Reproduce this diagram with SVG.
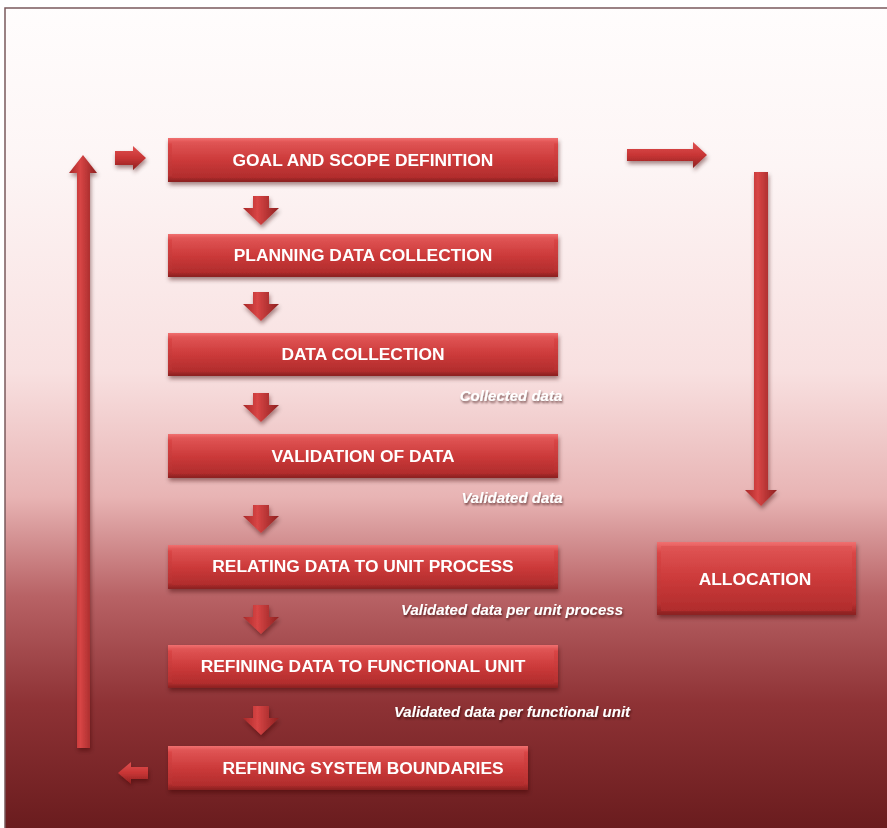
<svg xmlns="http://www.w3.org/2000/svg" width="887" height="828" viewBox="0 0 887 828">
<defs>
<linearGradient id="bg" x1="0" y1="0" x2="0" y2="828" gradientUnits="userSpaceOnUse">
<stop offset="0" stop-color="#fffdfd"/>
<stop offset="0.2" stop-color="#fdf5f5"/>
<stop offset="0.45" stop-color="#f8e0e0"/>
<stop offset="0.6" stop-color="#e8b4b4"/>
<stop offset="0.72" stop-color="#b86265"/>
<stop offset="0.85" stop-color="#8e3235"/>
<stop offset="1" stop-color="#6a1c1e"/>
</linearGradient>
<linearGradient id="box" x1="0" y1="0" x2="0" y2="1">
<stop offset="0" stop-color="#e05555"/>
<stop offset="0.5" stop-color="#cc3a3a"/>
<stop offset="1" stop-color="#b02c2c"/>
</linearGradient>
<linearGradient id="bevel" x1="0" y1="0" x2="0" y2="1">
<stop offset="0" stop-color="#f07070"/>
<stop offset="0.15" stop-color="#d94545"/>
<stop offset="0.85" stop-color="#b83030"/>
<stop offset="1" stop-color="#8a2020"/>
</linearGradient>
<linearGradient id="arrV" x1="0" y1="0" x2="1" y2="0">
<stop offset="0" stop-color="#a82828"/>
<stop offset="0.4" stop-color="#d84545"/>
<stop offset="1" stop-color="#8e2020"/>
</linearGradient>
<linearGradient id="arrH" x1="0" y1="0" x2="0" y2="1">
<stop offset="0" stop-color="#e05050"/>
<stop offset="0.5" stop-color="#c83535"/>
<stop offset="1" stop-color="#8e2020"/>
</linearGradient>
<filter id="sh" x="-10%" y="-20%" width="120%" height="150%">
<feDropShadow dx="1" dy="3" stdDeviation="2" flood-color="#3a0a0a" flood-opacity="0.45"/>
</filter>
<filter id="tsh" x="-10%" y="-30%" width="120%" height="160%">
<feDropShadow dx="1" dy="2" stdDeviation="1.2" flood-color="#2a0000" flood-opacity="0.6"/>
</filter>
</defs>
<style>
.bt{font-family:"Liberation Sans",Arial,sans-serif;font-weight:bold;font-size:17.4px;fill:#ffffff;text-anchor:middle}
.lt{font-family:"Liberation Sans",Arial,sans-serif;font-weight:bold;font-style:italic;font-size:15px;fill:#ffffff;text-anchor:middle}
.outer{fill:url(#bevel)}
.inner{fill:url(#box)}
</style>
<rect x="5" y="8" width="890" height="830" fill="url(#bg)" stroke="#7a5a5c" stroke-width="1.5"/>

<g id="goal" filter="url(#sh)">
<rect class="outer" x="168" y="138" width="390" height="44"/>
<rect class="inner" x="172" y="142" width="382" height="36"/>
<text class="bt" x="363" y="166">GOAL AND SCOPE DEFINITION</text>
</g>
<g id="planning" filter="url(#sh)">
<rect class="outer" x="168" y="234" width="390" height="43"/>
<rect class="inner" x="172" y="238" width="382" height="35"/>
<text class="bt" x="363" y="261">PLANNING DATA COLLECTION</text>
</g>
<g id="collection" filter="url(#sh)">
<rect class="outer" x="168" y="333" width="390" height="43"/>
<rect class="inner" x="172" y="337" width="382" height="35"/>
<text class="bt" x="363" y="360">DATA COLLECTION</text>
</g>
<g id="validation" filter="url(#sh)">
<rect class="outer" x="168" y="434" width="390" height="44"/>
<rect class="inner" x="172" y="438" width="382" height="36"/>
<text class="bt" x="363" y="462">VALIDATION OF DATA</text>
</g>
<g id="relating" filter="url(#sh)">
<rect class="outer" x="168" y="545" width="390" height="44"/>
<rect class="inner" x="172" y="549" width="382" height="36"/>
<text class="bt" x="363" y="572">RELATING DATA TO UNIT PROCESS</text>
</g>
<g id="refining-data" filter="url(#sh)">
<rect class="outer" x="168" y="645" width="390" height="43"/>
<rect class="inner" x="172" y="649" width="382" height="35"/>
<text class="bt" x="363" y="672">REFINING DATA TO FUNCTIONAL UNIT</text>
</g>
<g id="refining-system" filter="url(#sh)">
<rect class="outer" x="168" y="746" width="360" height="44"/>
<rect class="inner" x="172" y="750" width="352" height="36"/>
<text class="bt" x="363" y="774">REFINING SYSTEM BOUNDARIES</text>
</g>
<g id="allocation" filter="url(#sh)">
<rect class="outer" x="657" y="542" width="199" height="73"/>
<rect class="inner" x="661" y="546" width="191" height="65"/>
<text class="bt" x="755" y="585">ALLOCATION</text>
</g>

<g id="labels" filter="url(#tsh)">
<text class="lt" x="511" y="401">Collected data</text>
<text class="lt" x="512" y="503">Validated data</text>
<text class="lt" x="512" y="615">Validated data per unit process</text>
<text class="lt" x="512" y="717">Validated data per functional unit</text>
</g>

<g id="connectors" filter="url(#sh)">
<polygon fill="url(#arrV)" points="253,196 269,196 269,208 279,208 261,225 243,208 253,208"/>
<polygon fill="url(#arrV)" points="253,292 269,292 269,304 279,304 261,321 243,304 253,304"/>
<polygon fill="url(#arrV)" points="253,393 269,393 269,405 279,405 261,422 243,405 253,405"/>
<polygon fill="url(#arrV)" points="253,505 269,505 269,516 279,516 261,533 243,516 253,516"/>
<polygon fill="url(#arrV)" points="253,605 269,605 269,617 279,617 261,634 243,617 253,617"/>
<polygon fill="url(#arrV)" points="253,706 269,706 269,718 279,718 261,735 243,718 253,718"/>
<polygon fill="url(#arrV)" points="77,748 90,748 90,173 97,173 83,155 69,173 77,173"/>
<polygon fill="url(#arrV)" points="754,172 768,172 768,490 777,490 761,506 745,490 754,490"/>
<polygon fill="url(#arrH)" points="627,149 693,149 693,142 707,155 693,168 693,161 627,161"/>
<polygon fill="url(#arrH)" points="115,151 133,151 133,146 146,158 133,170 133,165 115,165"/>
<polygon fill="url(#arrH)" points="148,767 131,767 131,762 118,773 131,784 131,779 148,779"/>
</g>
</svg>
